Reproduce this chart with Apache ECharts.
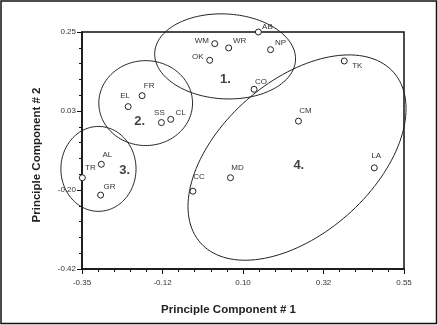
<!DOCTYPE html>
<html>
<head>
<meta charset="utf-8">
<script src="https://cdn.jsdelivr.net/npm/echarts@6/dist/echarts.min.js"></script>
<style>
  html, body { margin: 0; padding: 0; background: #fff; }
  #chart { width: 438px; height: 325px; }
</style>
</head>
<body>
<div id="chart"></div>
<script>
  // sites and their scores on the first two principal components
  const sites = ['AB', 'WM', 'WR', 'NP', 'OK', 'CO', 'TK', 'FR', 'EL', 'SS', 'CL', 'CM', 'AL', 'TR', 'GR', 'CC', 'MD', 'LA']
  const pc1 = [0.143, 0.021, 0.060, 0.177, 0.007, 0.131, 0.383, -0.182, -0.221, -0.128, -0.102, 0.255, -0.296, -0.349, -0.298, -0.040, 0.065, 0.467]
  const pc2 = [0.250, 0.217, 0.205, 0.200, 0.170, 0.088, 0.168, 0.070, 0.039, -0.006, 0.003, -0.002, -0.124, -0.162, -0.211, -0.200, -0.162, -0.134]

  const xTickLabels = ['-0.35', '-0.12', '0.10', '0.32', '0.55']
  const yTickLabels = ['-0.42', '-0.20', '0.03', '0.25']

  // cluster numbers
  const clusterNames = ['1.', '2.', '3.', '4.']
  const clusterX = [0.051, -0.189, -0.231, 0.256]
  const clusterY = [0.115, -0.003, -0.142, -0.128]

  // cluster outlines: centre, semi axes (pc1 / pc2 units), tilt in degrees
  const ellipseCx = [0.050, -0.172, -0.304, 0.251]
  const ellipseCy = [0.181, 0.049, -0.137, -0.105]
  const ellipseRx = [0.197, 0.131, 0.105, 0.360]
  const ellipseRy = [0.120, 0.120, 0.120, 0.216]
  const ellipseTilt = [-3, 0, 0, 41.4]

  // where each name sits relative to its point (px)
  const labelOffset = {
    AB: [9, -5], WM: [-13, -3], WR: [11, -7], NP: [10, -7], OK: [-12, -4], CO: [7, -8],
    TK: [13, 5], FR: [7, -10], EL: [-3, -11], SS: [-2, -10], CL: [10, -7], CM: [7, -10],
    AL: [6, -9], TR: [8, -10], GR: [9, -8], CC: [6, -14], MD: [7, -10], LA: [2, -12]
  }

  const font = 'Liberation Sans, Arial, sans-serif'
  const xMin = -0.35, xMax = 0.55, xStep = 0.225
  const yMin = -0.42, yMax = 0.25, yStep = 0.67 / 3

  const chart = echarts.init(document.getElementById('chart'))

  const points = sites.map((s, i) => ({
    name: s,
    value: [pc1[i], pc2[i]],
    label: { offset: labelOffset[s] }
  }))
  const clusters = clusterNames.map((n, i) => ({ name: n, value: [clusterX[i], clusterY[i]] }))
  const ellipses = ellipseCx.map((c, i) => [c, ellipseCy[i], ellipseRx[i], ellipseRy[i], ellipseTilt[i]])

  function ellipseItem(params, api) {
    const c = api.coord([api.value(0), api.value(1)])
    const rx = api.size([api.value(2), 0])[0]
    const ry = api.size([0, api.value(3)])[1]
    const t = api.value(4) * Math.PI / 180
    const pts = []
    for (let k = 0; k < 144; k++) {
      const a = k / 144 * Math.PI * 2
      const ex = rx * Math.cos(a)
      const ey = ry * Math.sin(a)
      pts.push([c[0] + ex * Math.cos(t) + ey * Math.sin(t), c[1] - ex * Math.sin(t) + ey * Math.cos(t)])
    }
    return {
      type: 'polygon',
      shape: { points: pts },
      style: { fill: 'none', stroke: '#222', lineWidth: 1 }
    }
  }

  const axisCommon = {
    type: 'value',
    nameLocation: 'middle',
    splitLine: { show: false },
    axisLine: { show: true, onZero: false, lineStyle: { color: '#111', width: 1.5 } },
    axisTick: { show: true, length: 5, lineStyle: { color: '#111' } },
    minorTick: { show: true, splitNumber: 5, length: 3, lineStyle: { color: '#111' } },
    nameTextStyle: { fontFamily: font, fontWeight: 'bold', fontSize: 11.5, color: '#222' }
  }

  chart.setOption({
    backgroundColor: '#fff',
    animation: false,
    grid: {
      left: 82, top: 32, width: 322, height: 237,
      show: true, borderColor: '#111', borderWidth: 1.5, backgroundColor: 'transparent'
    },
    xAxis: Object.assign({}, axisCommon, {
      min: xMin, max: xMax, interval: xStep,
      name: 'Principle Component # 1',
      nameGap: 35,
      nameTextStyle: Object.assign({}, axisCommon.nameTextStyle, { padding: [0, 29, 0, 0] }),
      axisLabel: {
        margin: 10, fontSize: 8, color: '#333', fontFamily: font,
        formatter: v => xTickLabels[Math.round((v - xMin) / xStep)]
      }
    }),
    yAxis: Object.assign({}, axisCommon, {
      min: yMin, max: yMax, interval: yStep,
      name: 'Principle Component # 2',
      nameGap: 39,
      nameTextStyle: Object.assign({}, axisCommon.nameTextStyle, { padding: [0, 9, 0, 0] }),
      axisLabel: {
        margin: 6, fontSize: 8, color: '#333', fontFamily: font,
        formatter: v => yTickLabels[Math.round((v - yMin) / yStep)]
      }
    }),
    graphic: [{
      type: 'rect',
      shape: { x: 1, y: 1, width: 435.5, height: 322.5 },
      style: { fill: 'none', stroke: '#111', lineWidth: 1.5 },
      silent: true
    }],
    series: [
      {
        type: 'custom',
        renderItem: ellipseItem,
        data: ellipses,
        encode: { x: 0, y: 1 },
        clip: false,
        silent: true,
        z: 1
      },
      {
        type: 'scatter',
        data: points,
        symbol: 'circle',
        symbolSize: 6,
        itemStyle: { color: '#fff', borderColor: '#222', borderWidth: 1, opacity: 1 },
        label: {
          show: true, position: 'inside', formatter: '{b}',
          fontFamily: font, fontSize: 8, color: '#333'
        },
        clip: false,
        z: 3
      },
      {
        type: 'scatter',
        data: clusters,
        symbolSize: 0,
        label: {
          show: true, position: 'inside', formatter: '{b}',
          fontFamily: font, fontSize: 13, fontWeight: 'bold', color: '#111'
        },
        silent: true,
        z: 4
      }
    ]
  })
</script>
</body>
</html>
